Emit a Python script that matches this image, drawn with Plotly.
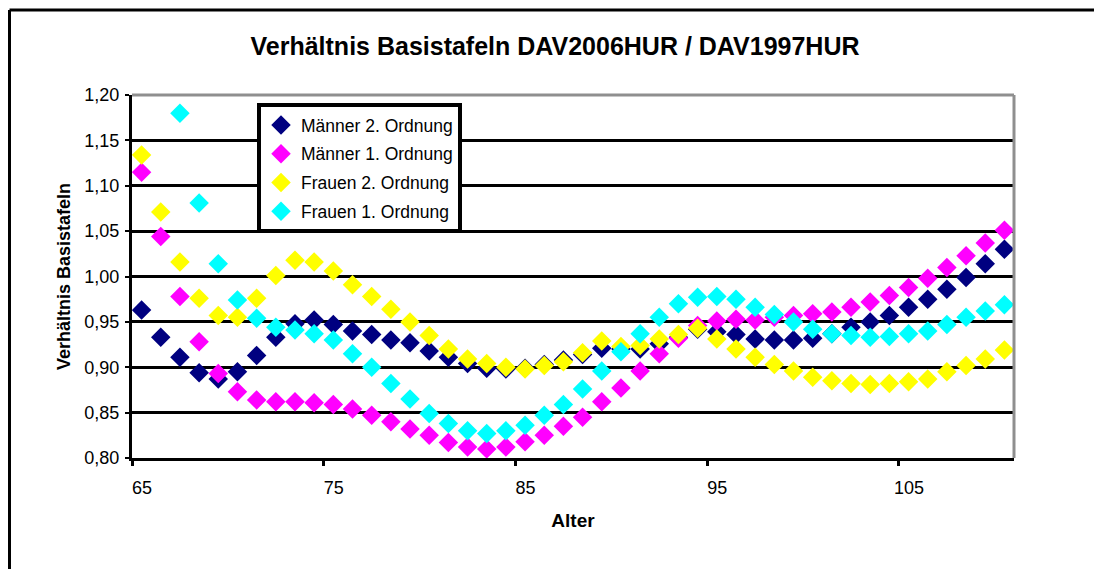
import plotly.graph_objects as go

# ---------------- data ----------------
ages = list(range(65, 111))

maenner_2 = [0.963, 0.933, 0.911, 0.894, 0.887, 0.895, 0.913, 0.933, 0.948, 0.952,
             0.947, 0.940, 0.936, 0.930, 0.927, 0.918, 0.911, 0.904, 0.899, 0.898,
             0.899, 0.903, 0.908, 0.914, 0.921, 0.920, 0.920, 0.926, 0.933, 0.942,
             0.939, 0.936, 0.931, 0.930, 0.930, 0.932, 0.937, 0.944, 0.950, 0.957,
             0.966, 0.975, 0.986, 0.999, 1.014, 1.030]

maenner_1 = [1.115, 1.044, 0.978, 0.928, 0.893, 0.873, 0.864, 0.862, 0.862, 0.861,
             0.859, 0.854, 0.847, 0.840, 0.832, 0.825, 0.817, 0.812, 0.810, 0.812,
             0.818, 0.825, 0.835, 0.845, 0.862, 0.877, 0.896, 0.915, 0.932, 0.946,
             0.951, 0.953, 0.952, 0.955, 0.957, 0.959, 0.961, 0.966, 0.972, 0.979,
             0.988, 0.998, 1.010, 1.023, 1.037, 1.051]

frauen_2 = [1.134, 1.071, 1.016, 0.976, 0.957, 0.955, 0.976, 1.001, 1.018, 1.016,
            1.006, 0.991, 0.978, 0.964, 0.950, 0.935, 0.920, 0.909, 0.904, 0.900,
            0.898, 0.902, 0.906, 0.916, 0.929, 0.923, 0.924, 0.931, 0.936, 0.943,
            0.931, 0.920, 0.911, 0.903, 0.896, 0.889, 0.885, 0.882, 0.881, 0.882,
            0.884, 0.887, 0.895, 0.902, 0.909, 0.919]

frauen_1 = [None, None, 1.180, 1.081, 1.014, 0.974, 0.954, 0.944, 0.941, 0.937,
            0.930, 0.915, 0.900, 0.882, 0.865, 0.849, 0.838, 0.830, 0.827, 0.830,
            0.836, 0.847, 0.859, 0.876, 0.896, 0.917, 0.937, 0.955, 0.970, 0.977,
            0.978, 0.975, 0.966, 0.958, 0.950, 0.942, 0.937, 0.935, 0.933, 0.934,
            0.937, 0.940, 0.947, 0.955, 0.962, 0.969]

series_names = ["Männer 2. Ordnung", "Männer 1. Ordnung",
                "Frauen 2. Ordnung", "Frauen 1. Ordnung"]
series_values = [maenner_2, maenner_1, frauen_2, frauen_1]
series_colors = ["#000080", "#FF00FF", "#FFFF00", "#00FFFF"]

x_tick_labels = ["65", "75", "85", "95", "105"]

FONT = "Arial, Liberation Sans, sans-serif"

# figure geometry (page body has an 8px margin)
W, H = 1094, 561
PL, PR, PT, PB = 124, 1006, 87, 450   # plot area edges in figure pixels


def px_x(p):
    return (p - PL) / (PR - PL)


def px_y(p):
    return (PB - p) / (PB - PT)


# ---------------- figure ----------------
fig = go.Figure()
for name, vals, col in zip(series_names, series_values, series_colors):
    fig.add_trace(go.Scatter(
        x=ages, y=vals, name=name, mode="markers", legendgroup=name,
        marker=dict(symbol="diamond", size=15, color=col, line=dict(width=0)),
    ))

# category boundaries (ticks between categories, labels centred on category)
tick_positions = [int(t) - 0.5 for t in x_tick_labels]

fig.update_layout(
    width=W, height=H,
    margin=dict(l=PL, r=W - PR, t=PT, b=H - PB),
    paper_bgcolor="white", plot_bgcolor="white",
    separators=",.",
    font=dict(family=FONT, color="black"),
    title=dict(text="<b>Verhältnis Basistafeln DAV2006HUR / DAV1997HUR</b>",
               x=0.5, xref="container", xanchor="center",
               y=1 - 38 / H, yref="container", yanchor="middle",
               font=dict(size=25, family=FONT, color="black")),
    legend=dict(x=px_x(249), y=px_y(95),
                xanchor="left", yanchor="top",
                bgcolor="white", bordercolor="black", borderwidth=4,
                font=dict(size=17.5, family=FONT, color="black"),
                tracegroupgap=3),
    xaxis=dict(range=[ages[0] - 0.5, ages[-1] + 0.5],
               tickmode="array", tickvals=tick_positions, ticktext=x_tick_labels,
               ticks="outside", ticklen=5, tickwidth=3, tickcolor="black",
               ticklabelshift=10, ticklabelstandoff=6,
               tickfont=dict(size=18, family=FONT, color="black"),
               showline=True, linecolor="black", linewidth=3,
               showgrid=False, zeroline=False,
               title=dict(text="<b>Alter</b>", standoff=18,
                          font=dict(size=19, family=FONT, color="black"))),
    yaxis=dict(range=[0.8, 1.2], tick0=0.8, dtick=0.05, tickformat=".2f",
               ticks="outside", ticklen=4, tickwidth=2, tickcolor="black",
               ticklabelstandoff=2,
               tickfont=dict(size=18, family=FONT, color="black"),
               showline=True, linecolor="black", linewidth=3,
               showgrid=True, gridcolor="black", gridwidth=3, zeroline=False,
               title=dict(text="<b>Verhältnis Basistafeln</b>", standoff=10,
                          font=dict(size=18, family=FONT, color="black"))),
)

# plot-area border (grey top/right) and outer chart frame
fig.add_shape(type="line", xref="paper", yref="paper", x0=0, x1=1, y0=1, y1=1,
              line=dict(color="#8f8f8f", width=3), layer="above")
fig.add_shape(type="line", xref="paper", yref="paper", x0=1, x1=1, y0=0, y1=1,
              line=dict(color="#8f8f8f", width=3), layer="above")

lx, rx = px_x(1.5), px_x(1089)
ty, by = px_y(2), px_y(H + 20)
for (x0, y0, x1, y1) in [(lx, by, lx, ty), (lx, ty, rx, ty), (rx, ty, rx, by)]:
    fig.add_shape(type="line", xref="paper", yref="paper",
                  x0=x0, y0=y0, x1=x1, y1=y1,
                  line=dict(color="black", width=3), layer="above")

fig.write_html("out.html")
